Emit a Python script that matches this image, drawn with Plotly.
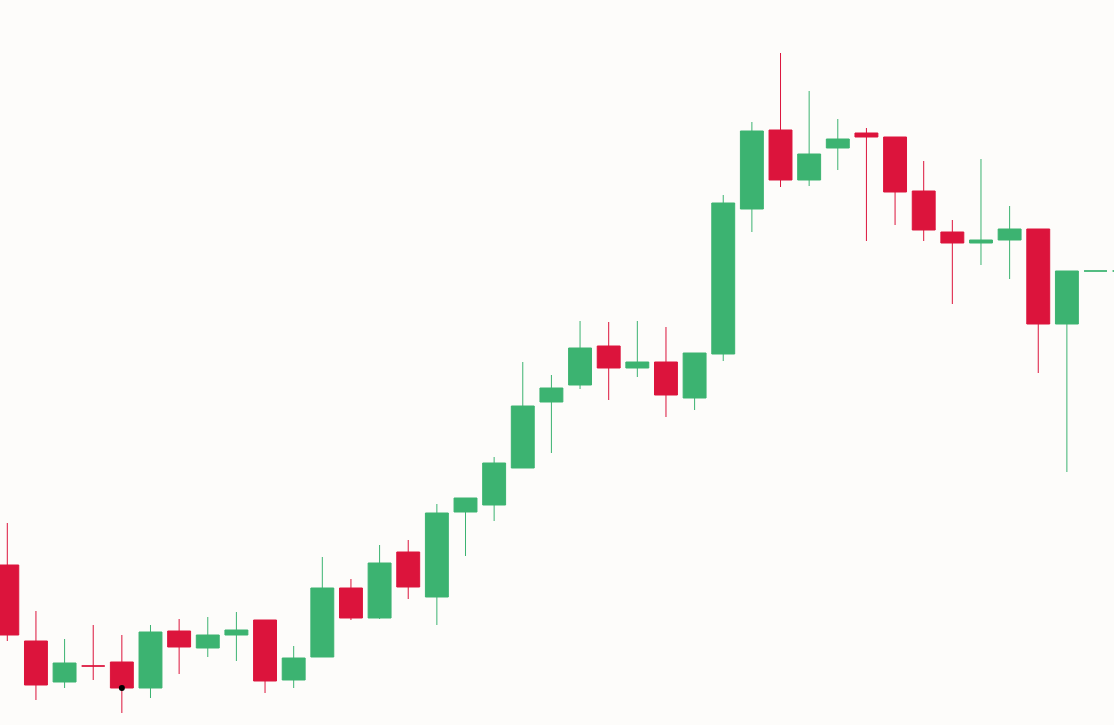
import plotly.graph_objects as go

# Candle index (time step)
idx = list(range(40))

open_ = [160, 84, 43, 59, 63, 37, 94, 77, 90, 105,
         45, 68, 137, 107, 173, 128, 213, 220, 257, 323,
         340, 379, 357, 363, 327, 371, 516, 595, 545, 577,
         592, 588, 534, 493, 482, 485, 496, 401, 454, 454]
close = [90, 40, 62, 59, 37, 93, 78, 90, 95, 44,
         67, 137, 107, 162, 138, 212, 227, 262, 319, 337,
         377, 357, 363, 330, 372, 522, 594, 545, 571, 586,
         588, 533, 495, 482, 485, 496, 401, 454, 454, 454]
high = [202, 114, 86, 100, 90, 100, 106, 108, 113, 105,
        79, 168, 146, 180, 185, 221, 227, 268, 363, 350,
        404, 403, 404, 398, 372, 530, 603, 672, 634, 606,
        597, 588, 564, 505, 566, 519, 496, 454, 454, 454]
low = [84, 25, 37, 45, 12, 27, 51, 68, 64, 32,
       37, 68, 105, 106, 126, 100, 169, 204, 257, 272,
       336, 325, 348, 308, 315, 364, 493, 538, 539, 555,
       484, 500, 484, 421, 460, 446, 352, 253, 454, 454]

marker_idx = [4]
marker_val = [37]

UP = "#3cb371"
DOWN = "#dc143c"
BG = "#fdfcfa"

fig = go.Figure()
fig.add_trace(go.Candlestick(
    x=idx, open=open_, high=high, low=low, close=close,
    increasing=dict(line=dict(color=UP, width=1), fillcolor=UP),
    decreasing=dict(line=dict(color=DOWN, width=1), fillcolor=DOWN),
    whiskerwidth=0,
    showlegend=False,
    hoverinfo="skip",
))
fig.add_trace(go.Scatter(
    x=marker_idx, y=marker_val, mode="markers",
    marker=dict(color="black", size=6),
    showlegend=False, hoverinfo="skip",
))

fig.update_layout(
    width=1114, height=725,
    margin=dict(l=0, r=0, t=0, b=0),
    paper_bgcolor=BG, plot_bgcolor=BG,
    boxgap=0.2, boxgroupgap=0,
    xaxis=dict(range=[-0.255, 38.645], visible=False, showgrid=False,
               zeroline=False, rangeslider=dict(visible=False)),
    yaxis=dict(range=[0, 725], visible=False, showgrid=False, zeroline=False),
)

fig.write_html(
    "out.html",
    config={"displayModeBar": False},
    post_script="document.body.style.margin='0';document.body.style.background='%s';" % BG,
)
